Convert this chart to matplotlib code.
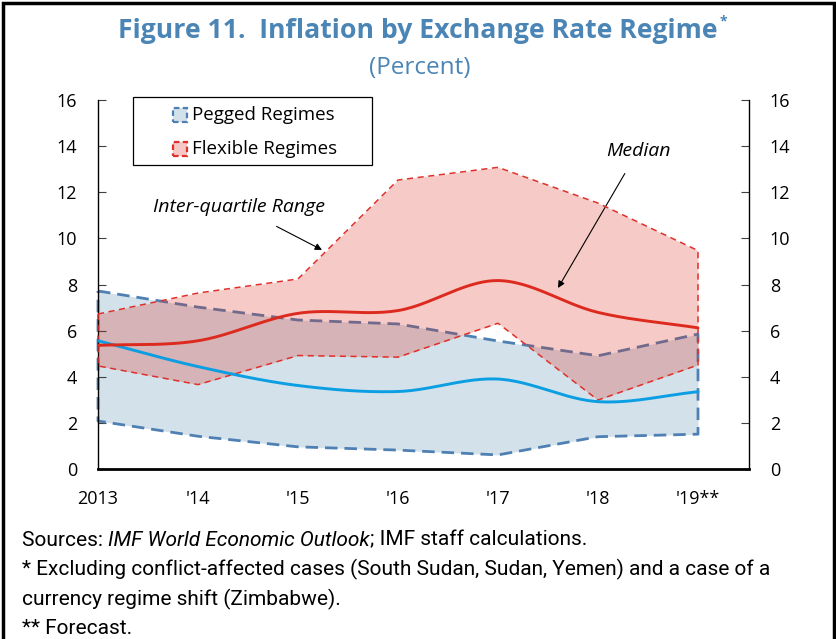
import numpy as np
import matplotlib
matplotlib.use("Agg")
import matplotlib.pyplot as plt
from matplotlib.patches import Rectangle

# ---------------- data ----------------
years = ["2013", "'14", "'15", "'16", "'17", "'18", "'19**"]
pegged_upper = [7.72, 7.02, 6.46, 6.29, 5.55, 4.91, 5.85]
pegged_lower = [2.08, 1.42, 0.96, 0.82, 0.61, 1.40, 1.51]
pegged_median = [5.56, 4.44, 3.62, 3.36, 3.90, 2.92, 3.35]
flex_upper = [6.72, 7.63, 8.24, 12.53, 13.08, 11.53, 9.47]
flex_lower = [4.47, 3.66, 4.92, 4.85, 6.32, 2.99, 4.51]
flex_median = [5.36, 5.56, 6.75, 6.87, 8.17, 6.79, 6.12]
yticks = [0, 2, 4, 6, 8, 10, 12, 14, 16]
legend_labels = ["Pegged Regimes", "Flexible Regimes"]

BLUE_FILL = "#d3e1ea"
BLUE_EDGE = "#4f80b3"
BLUE_LINE = "#0c9ee2"
RED_EDGE = "#e0302a"
RED_LINE = "#dd2a1f"
PINK = "#f5c7c5"
TITLE_C = "#4a85b5"

FONT = ["Open Sans", "DejaVu Sans"]
NOTE_FONT = ["Liberation Sans Narrow", "Roboto", "DejaVu Sans"]


def smooth(x, y, n=30):
    """Catmull-Rom curve through the given points (Excel-style smoothed line)."""
    x = np.asarray(x, float)
    y = np.asarray(y, float)
    px = np.concatenate([[2 * x[0] - x[1]], x, [2 * x[-1] - x[-2]]])
    py = np.concatenate([[2 * y[0] - y[1]], y, [2 * y[-1] - y[-2]]])
    xs, ys = [], []
    t = np.linspace(0, 1, n)
    for i in range(1, len(px) - 2):
        for p, out in ((px, xs), (py, ys)):
            p0, p1, p2, p3 = p[i - 1], p[i], p[i + 1], p[i + 2]
            out.extend(0.5 * ((2 * p1) + (-p0 + p2) * t
                              + (2 * p0 - 5 * p1 + 4 * p2 - p3) * t ** 2
                              + (-p0 + 3 * p1 - 3 * p2 + p3) * t ** 3))
    return np.array(xs), np.array(ys)


W, H = 837, 639
fig = plt.figure(figsize=(W / 100, H / 100), dpi=100)
AX_L, AX_R, AX_T, AX_B = 98, 749, 100, 469
ax = fig.add_axes([AX_L / W, 1 - AX_B / H, (AX_R - AX_L) / W, (AX_B - AX_T) / H])
x = np.arange(len(years))

# pegged band
ax.fill_between(x, pegged_lower, pegged_upper, color=BLUE_FILL, lw=0, zorder=1)
px = np.concatenate([x, x[::-1], [x[0]]])
py = np.concatenate([pegged_upper, pegged_lower[::-1], [pegged_upper[0]]])
ax.plot(px, py, color=BLUE_EDGE, lw=2.0, dashes=(4.5, 2.5), zorder=2, clip_on=False)

# flexible band
ax.fill_between(x, flex_lower, flex_upper, color="#dc2c1c", alpha=0.25, lw=0, zorder=3)
fy = np.concatenate([flex_upper, flex_lower[::-1], [flex_upper[0]]])
ax.plot(px, fy, color=RED_EDGE, lw=1.1, dashes=(4, 3), zorder=4, clip_on=False)

# medians
sx, sy = smooth(x, pegged_median)
ax.plot(sx, sy, color=BLUE_LINE, lw=2.1, zorder=5, solid_capstyle="round")
sx, sy = smooth(x, flex_median)
ax.plot(sx, sy, color=RED_LINE, lw=2.1, zorder=6, solid_capstyle="round")

ax.set_xlim(0, 6.51)
ax.set_ylim(0, 16)
ax.set_yticks(yticks)
ax.set_yticklabels([str(v) for v in yticks], fontsize=13, family=FONT)
ax.set_xticks(x)
ax.set_xticklabels(years, fontsize=13, family=FONT)
ax.tick_params(axis="y", direction="in", length=6, width=0.8, color="#404040",
               left=True, right=True, labelleft=True, labelright=True, pad=15)
ax.tick_params(axis="x", length=0, pad=15)
for s in ax.spines.values():
    s.set_linewidth(1.0)
ax.spines["bottom"].set_linewidth(2.0)
ax.spines["top"].set_visible(False)

# annotations
ax.annotate("Inter-quartile Range", xy=(2.24, 9.5), xytext=(1.41, 11.36),
            ha="center", va="center", fontsize=14, style="italic", family=FONT,
            arrowprops=dict(arrowstyle="-|>", color="black", lw=0.8,
                            shrinkA=12, shrinkB=0, mutation_scale=10))
ax.annotate("Median", xy=(4.6, 7.85), xytext=(5.40, 13.79),
            ha="center", va="center", fontsize=14, style="italic", family=FONT,
            arrowprops=dict(arrowstyle="-|>", color="black", lw=0.8,
                            shrinkA=9, shrinkB=0, mutation_scale=10))

# legend (drawn manually in pixel-based axes coordinates)
def ax_xy(px_, py_):
    return (px_ - AX_L) / (AX_R - AX_L), (AX_B - py_) / (AX_B - AX_T)

bx0, by0 = ax_xy(133, 165)
bx1, by1 = ax_xy(372, 97)
ax.add_patch(Rectangle((bx0, by0), bx1 - bx0, by1 - by0, transform=ax.transAxes,
                       facecolor="white", edgecolor="black", lw=0.9,
                       zorder=10, clip_on=False))
for lab, fc, ec, yc in ((legend_labels[0], BLUE_FILL, BLUE_EDGE, 115),
                        (legend_labels[1], PINK, RED_EDGE, 149)):
    hx0, hy0 = ax_xy(173, yc + 7)
    hx1, hy1 = ax_xy(187, yc - 7)
    ax.add_patch(Rectangle((hx0, hy0), hx1 - hx0, hy1 - hy0, transform=ax.transAxes,
                           facecolor=fc, edgecolor=ec, lw=1.6,
                           linestyle=(0, (2.5, 1.5)), zorder=11, clip_on=False))
    tx, ty = ax_xy(192, yc)
    ax.text(tx, ty, lab, transform=ax.transAxes, ha="left", va="center",
            fontsize=13.5, family=FONT, zorder=12)

# titles
t = fig.text(0.499, 0.952, "Figure 11.  Inflation by Exchange Rate Regime",
             ha="center", va="center", fontsize=19.2, weight="bold",
             color=TITLE_C, family=FONT)
fig.canvas.draw()
r = fig.canvas.get_renderer()
bb = t.get_window_extent(r)
fig.text(bb.x1 / fig.bbox.width + 0.002, 0.966, "*", ha="left", va="center",
         fontsize=10, weight="bold", color=TITLE_C, family=FONT)
fig.text(0.502, 0.893, "(Percent)", ha="center", va="center", fontsize=17.5,
         color=TITLE_C, family=FONT)

# footnotes (mixed italic)
def line(pieces, y, x0=0.026, size=15):
    xpos = x0
    for txt, sty in pieces:
        tt = fig.text(xpos, y, txt, ha="left", va="center", fontsize=size,
                      style=sty, family=NOTE_FONT)
        fig.canvas.draw()
        e = tt.get_window_extent(fig.canvas.get_renderer())
        xpos = e.x1 / fig.bbox.width

line([("Sources: ", "normal"), ("IMF World Economic Outlook", "italic"),
      ("; IMF staff calculations.", "normal")], 1 - 540 / 639)
line([("* Excluding conflict-affected cases (South Sudan, Sudan, Yemen) and a case of a", "normal")], 1 - 569 / 639)
line([("currency regime shift (Zimbabwe).", "normal")], 1 - 599 / 639)
line([("** Forecast.", "normal")], 1 - 628 / 639)

# outer frame
fig.patches.append(Rectangle((0.004, -0.05), 0.992, 1.046, transform=fig.transFigure,
                             fill=False, edgecolor="black", lw=2.5))

fig.savefig("out.png", dpi=100)
